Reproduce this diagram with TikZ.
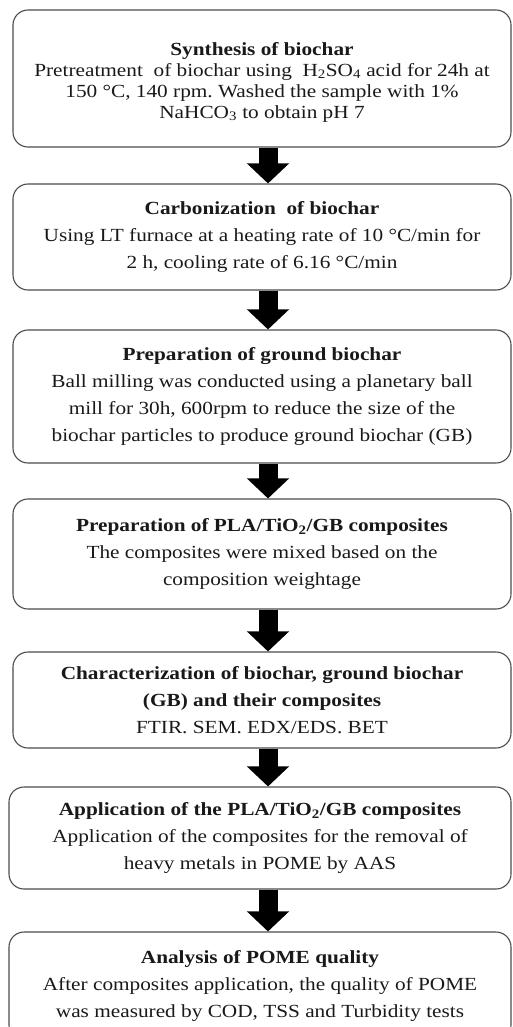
\documentclass[tikz,border=0pt]{standalone}
\usepackage{fontspec}
\setmainfont{Liberation Serif}[FakeStretch=1.15]
\usetikzlibrary{arrows.meta}
\begin{document}
\begin{tikzpicture}[x=1pt,y=-1pt,
  stepbox/.style={draw=black!70, line width=1.1pt, rounded corners=15pt,
    align=center, inner sep=0pt, text=black!90,
    font=\fontsize{18.5}{27}\selectfont},
  flowarrow/.style={line width=19pt, black,
    -{Triangle[width=41pt,length=20pt]}}]
\useasboundingbox (0,0) rectangle (512,1027);
\clip (0,0) rectangle (512,1027);
\node[stepbox, minimum width=498pt, minimum height=137pt, font=\fontsize{18.5}{21}\selectfont] (b1) at (262,78.5)
  {\rule{0pt}{20pt}\textbf{Synthesis of biochar}\\ Pretreatment\ \ of biochar\ using\ \ H\textsubscript{2}SO\textsubscript{4} acid for 24h at\\ 150 °C, 140 rpm.\ Washed the sample\ with\ 1\%\\ NaHCO\textsubscript{3} to obtain pH 7};
\node[stepbox, minimum width=498pt, minimum height=106pt] (b2) at (262,237)
  {\textbf{Carbonization\ \ of biochar}\\ Using\ LT furnace\ at a heating\ rate of 10 °C/min\ for\\ 2 h, cooling\ rate of 6.16 °C/min};
\node[stepbox, minimum width=498pt, minimum height=133pt] (b3) at (262,396.5)
  {\textbf{Preparation\ of ground\ biochar}\\ Ball milling\ was conducted using\ a planetary\ ball\\ mill\ for 30h, 600rpm to reduce the size\ of the\\ biochar\ particles\ to produce ground\ biochar (GB)};
\node[stepbox, minimum width=498pt, minimum height=110pt] (b4) at (262,554)
  {\textbf{Preparation\ of PLA/TiO\textsubscript{2}/GB\ composites}\\ The\ composites\ were mixed\ based on the\\ composition\ weightage};
\node[stepbox, minimum width=498pt, minimum height=96pt] (b5) at (262,700)
  {\textbf{Characterization\ of biochar,\ ground\ biochar}\\ \textbf{(GB) and their composites}\\ FTIR.\ SEM.\ EDX/EDS.\ BET};
\node[stepbox, minimum width=502pt, minimum height=102pt] (b6) at (260,838)
  {\textbf{Application\ of the PLA/TiO\textsubscript{2}/GB\ composites}\\ Application\ of the composites\ for the removal\ of\\ heavy\ metals\ in POME by AAS};
\node[stepbox, minimum width=502pt, minimum height=108pt] (b7) at (260,986)
  {\textbf{Analysis of POME quality}\\ After\ composites\ application,\ the quality\ of POME\\ was measured\ by COD, TSS and Turbidity\ tests};
\foreach \a/\b in {b1/b2,b2/b3,b3/b4,b4/b5,b5/b6,b6/b7}
  \draw[flowarrow] (\a.south -| 268,0) -- (\b.north -| 268,0);
\end{tikzpicture}
\end{document}
